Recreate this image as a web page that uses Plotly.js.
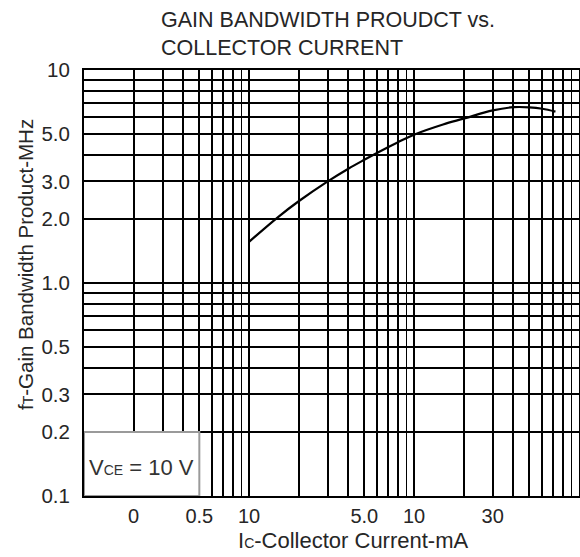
<!DOCTYPE html>
<html>
<head>
<meta charset="utf-8">
<script src="https://cdn.plot.ly/plotly-3.0.1.min.js"></script>
<style>html,body{margin:0;padding:0;background:#fff;}#chart{width:580px;height:557px;}</style>
</head>
<body>
<div id="chart"></div>
<script>
// Collector current (mA) and gain-bandwidth product (MHz)
var collectorCurrent = [1, 1.5, 2, 3, 4, 5, 6, 8, 10, 15, 20, 30, 40, 50, 60, 72];
var gainBandwidth   = [1.56, 2.04, 2.42, 3.0, 3.44, 3.79, 4.09, 4.58, 4.97, 5.55, 5.91, 6.46, 6.69, 6.68, 6.58, 6.38];

// Tick labels as printed on the original sheet
var xTickValues = [0.2, 0.5, 1, 5, 10, 30];
var xTickLabels = ["0", "0.5", "10", "5.0", "10", "30"];
var yTickValues = [0.1, 0.2, 0.3, 0.5, 1, 2, 3, 5, 10];
var yTickLabels = ["0.1", "0.2", "0.3", "0.5", "1.0", "2.0", "3.0", "5.0", "10"];

// log-paper grid: every 1..9 multiple of each decade
function decadeGrid(lo, hi) {
  var v = [];
  for (var d = lo; d < hi; d++) {
    for (var m = 1; m <= 9; m++) v.push(+(m * Math.pow(10, d)).toPrecision(3));
  }
  v.push(Math.pow(10, hi));
  return v;
}
function labelsFor(grid, vals, labels) {
  return grid.map(function (g) {
    for (var i = 0; i < vals.length; i++) if (Math.abs(vals[i] - g) < 1e-9) return labels[i];
    return "";
  });
}
var xGrid = decadeGrid(-1, 2);
var yGrid = decadeGrid(-1, 1);

var font = "Liberation Sans, Arial, sans-serif";
var txt = "#262626";

var trace = {
  x: collectorCurrent,
  y: gainBandwidth,
  type: "scatter",
  mode: "lines",
  line: {color: "#000", width: 2.2, shape: "spline", smoothing: 1},
  hoverinfo: "x+y",
  showlegend: false
};

var layout = {
  width: 580,
  height: 557,
  margin: {l: 84, r: 1, t: 70, b: 61},
  paper_bgcolor: "#fff",
  plot_bgcolor: "#fff",
  font: {family: font, color: txt, size: 20},
  title: {
    text: "GAIN BANDWIDTH PROUDCT vs.<br>COLLECTOR CURRENT",
    font: {family: font, size: 21.5, color: txt},
    xref: "container", yref: "container",
    x: 161 / 580, xanchor: "left",
    y: 1 - 27 / 557, yanchor: "top",
    align: "left"
  },
  xaxis: {
    type: "log",
    range: [-1, 2],
    tickmode: "array",
    tickvals: xGrid,
    ticktext: labelsFor(xGrid, xTickValues, xTickLabels),
    ticks: "",
    ticklabelstandoff: 1,
    showgrid: true,
    gridcolor: "#000",
    gridwidth: 1.9,
    zeroline: false,
    showline: true,
    linecolor: "#000",
    linewidth: 2,
    mirror: true,
    tickfont: {family: font, size: 20, color: txt},
    automargin: false
  },
  yaxis: {
    type: "log",
    range: [-1, 1],
    tickmode: "array",
    tickvals: yGrid,
    ticktext: labelsFor(yGrid, yTickValues, yTickLabels),
    ticks: "",
    ticklabelstandoff: 8,
    showgrid: true,
    gridcolor: "#000",
    gridwidth: 1.9,
    zeroline: false,
    showline: true,
    linecolor: "#000",
    linewidth: 2,
    mirror: true,
    tickfont: {family: font, size: 20.5, color: txt},
    automargin: false
  },
  shapes: [{
    type: "rect",
    xref: "x", yref: "y",
    x0: 0.1, x1: 0.5, y0: 0.1, y1: 0.2,
    fillcolor: "#fff",
    line: {color: "#9a9a9a", width: 2},
    layer: "between"
  }],
  annotations: [
    {
      // x-axis title
      xref: "paper", yref: "paper",
      x: (353 - 84) / 495, y: -(540 - 496) / 426,
      xanchor: "center", yanchor: "middle",
      text: "I<span style='font-size:14px'>C</span>-Collector Current-mA",
      showarrow: false,
      font: {family: font, size: 22, color: txt}
    },
    {
      // y-axis title
      xref: "paper", yref: "paper",
      x: -(84 - 25) / 495, y: (496 - 265) / 426,
      xanchor: "center", yanchor: "middle",
      textangle: -90,
      text: "f<span style='font-size:14px'>T</span>-Gain Bandwidth Product-MHz",
      showarrow: false,
      font: {family: font, size: 20.5, color: txt}
    },
    {
      // test condition box label
      xref: "paper", yref: "paper",
      x: (141 - 84) / 495, y: (496 - 467) / 426,
      xanchor: "center", yanchor: "middle",
      text: "V<span style='font-size:14px'>CE</span> = 10 V",
      showarrow: false,
      font: {family: font, size: 22, color: "#333"}
    }
  ]
};

Plotly.newPlot("chart", [trace], layout, {displayModeBar: false, staticPlot: true});
</script>
</body>
</html>
